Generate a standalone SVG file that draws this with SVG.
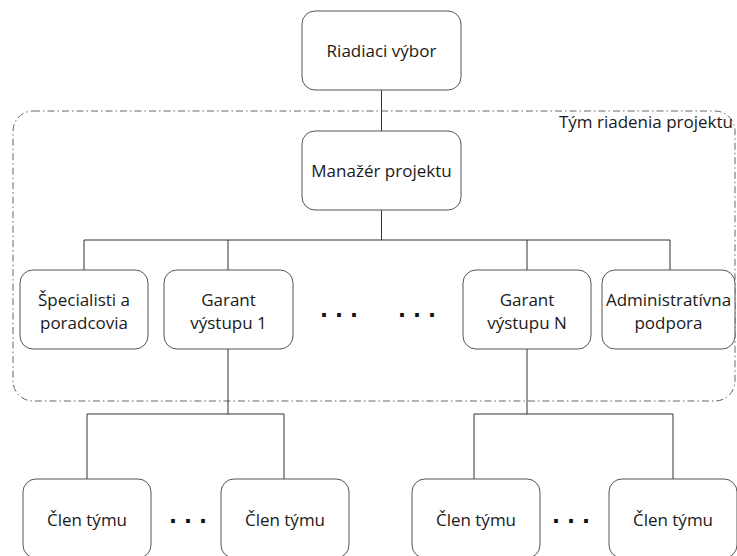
<svg xmlns="http://www.w3.org/2000/svg" width="737" height="556" viewBox="0 0 737 556">
  <style>
    .box { fill: #ffffff; stroke: #555555; stroke-width: 1; }
    .lbl { font-family: "Open Sans", "Noto Sans", "DejaVu Sans", sans-serif; font-size: 17px; fill: #1a1a1a; text-anchor: middle; }
    .wire { fill: none; stroke: #333333; stroke-width: 1; }
    .frame { fill: none; stroke: #666666; stroke-width: 1; stroke-dasharray: 7 3 1.5 3; }
    .dots { font-family: "DejaVu Sans", sans-serif; font-weight: bold; font-size: 21px; fill: #111111; letter-spacing: 7px; }
  </style>
  <rect width="737" height="556" fill="#ffffff"/>

  <!-- project management team boundary -->
  <g id="team-frame">
    <rect class="frame" x="13" y="111" width="722" height="290" rx="20" ry="20"/>
    <text class="lbl" x="733" y="128" style="text-anchor:end">Tým riadenia projektu</text>
  </g>

  <!-- connectors -->
  <g id="connectors">
    <path class="wire" d="M381.5 90 V131"/>
    <path class="wire" d="M381.5 210 V240"/>
    <path class="wire" d="M84 270 V240 H670 V270"/>
    <path class="wire" d="M228 240 V270"/>
    <path class="wire" d="M527 240 V270"/>
    <path class="wire" d="M228 349 V414"/>
    <path class="wire" d="M87 479 V414 H284 V479"/>
    <path class="wire" d="M527 349 V414"/>
    <path class="wire" d="M474 479 V414 H673 V479"/>
  </g>

  <g id="riadiaci-vybor">
    <rect class="box" x="302" y="11" width="159" height="79" rx="13"/>
    <text class="lbl" x="381.5" y="57">Riadiaci výbor</text>
  </g>
  <g id="manazer-projektu">
    <rect class="box" x="302" y="131" width="159" height="79" rx="13"/>
    <text class="lbl" x="381.5" y="177">Manažér projektu</text>
  </g>

  <g id="specialisti">
    <rect class="box" x="20" y="270" width="128" height="79" rx="13"/>
    <text class="lbl" x="84" y="306">Špecialisti a</text>
    <text class="lbl" x="84" y="329">poradcovia</text>
  </g>
  <g id="garant-1">
    <rect class="box" x="164" y="270" width="129" height="79" rx="13"/>
    <text class="lbl" x="228.5" y="306">Garant</text>
    <text class="lbl" x="228.5" y="329">výstupu 1</text>
  </g>
  <g id="garant-n">
    <rect class="box" x="463" y="270" width="128" height="79" rx="13"/>
    <text class="lbl" x="527" y="306">Garant</text>
    <text class="lbl" x="527" y="329">výstupu N</text>
  </g>
  <g id="administrativna-podpora">
    <rect class="box" x="602" y="270" width="133" height="79" rx="13"/>
    <text class="lbl" x="668.5" y="306">Administratívna</text>
    <text class="lbl" x="668.5" y="329">podpora</text>
  </g>

  <g id="ellipsis-mid">
    <text class="dots" x="320" y="317">...</text>
    <text class="dots" x="398" y="317">...</text>
  </g>

  <g id="clen-1a">
    <rect class="box" x="23" y="479" width="128" height="79" rx="13"/>
    <text class="lbl" x="87" y="526">Člen týmu</text>
  </g>
  <g id="clen-1b">
    <rect class="box" x="221" y="479" width="128" height="79" rx="13"/>
    <text class="lbl" x="285" y="526">Člen týmu</text>
  </g>
  <g id="clen-na">
    <rect class="box" x="412" y="479" width="128" height="79" rx="13"/>
    <text class="lbl" x="476" y="526">Člen týmu</text>
  </g>
  <g id="clen-nb">
    <rect class="box" x="609" y="479" width="128" height="79" rx="13"/>
    <text class="lbl" x="673" y="526">Člen týmu</text>
  </g>

  <g id="ellipsis-low">
    <text class="dots" x="169" y="523">...</text>
    <text class="dots" x="552" y="523">...</text>
  </g>
</svg>
